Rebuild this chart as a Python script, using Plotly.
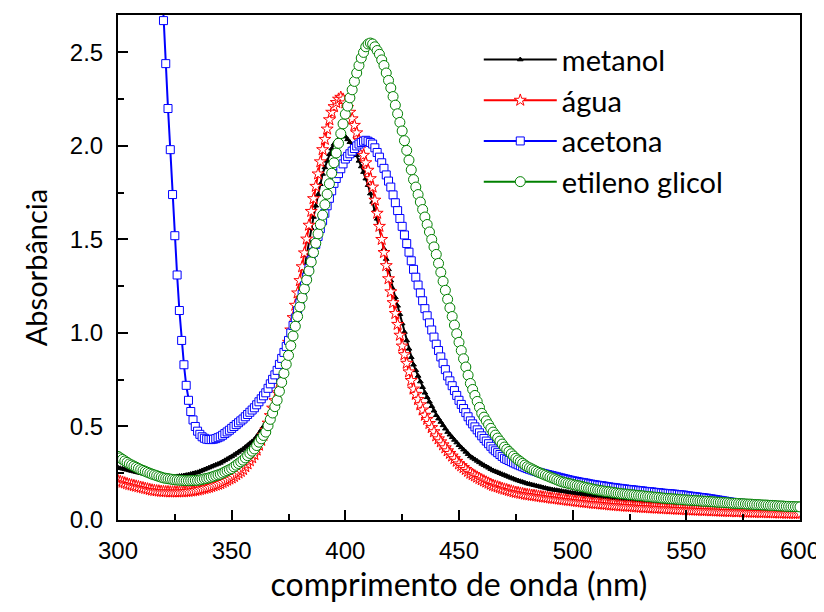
import plotly.graph_objects as go

wl = list(range(300, 601))
wl_acetona = list(range(319, 601))

metanol = [
 0.280,0.277,0.274,0.271,0.268,0.265,0.262,0.259,0.256,0.253,
 0.250,0.248,0.246,0.244,0.242,0.240,0.238,0.236,0.235,0.233,
 0.232,0.232,0.231,0.231,0.231,0.232,0.233,0.235,0.236,0.238,
 0.240,0.243,0.246,0.249,0.252,0.255,0.260,0.265,0.270,0.275,
 0.280,0.285,0.290,0.295,0.300,0.305,0.312,0.319,0.326,0.333,
 0.340,0.348,0.356,0.364,0.372,0.380,0.390,0.400,0.410,0.420,
 0.430,0.446,0.463,0.481,0.500,0.520,0.546,0.574,0.602,0.630,
 0.660,0.700,0.742,0.786,0.832,0.880,0.942,1.006,1.070,1.135,
 1.200,1.272,1.344,1.416,1.488,1.560,1.620,1.680,1.740,1.795,
 1.850,1.885,1.920,1.955,1.985,2.010,2.025,2.038,2.050,2.060,
 2.050,2.035,2.020,1.997,1.973,1.950,1.920,1.890,1.860,1.825,
 1.790,1.745,1.700,1.655,1.610,1.560,1.505,1.450,1.395,1.340,
 1.280,1.235,1.190,1.145,1.100,1.050,1.005,0.960,0.915,0.870,
 0.830,0.800,0.770,0.740,0.710,0.680,0.656,0.632,0.608,0.584,
 0.560,0.542,0.524,0.506,0.488,0.470,0.456,0.442,0.428,0.414,
 0.400,0.388,0.376,0.364,0.352,0.340,0.332,0.324,0.316,0.308,
 0.300,0.293,0.286,0.279,0.272,0.265,0.260,0.255,0.250,0.245,
 0.240,0.235,0.230,0.225,0.220,0.215,0.211,0.207,0.203,0.199,
 0.195,0.192,0.189,0.186,0.183,0.180,0.177,0.174,0.171,0.168,
 0.165,0.163,0.161,0.159,0.157,0.155,0.153,0.151,0.149,0.147,
 0.145,0.143,0.141,0.140,0.138,0.136,0.135,0.133,0.131,0.130,
 0.128,0.127,0.125,0.124,0.123,0.121,0.120,0.119,0.117,0.116,
 0.115,0.114,0.113,0.112,0.111,0.110,0.109,0.107,0.106,0.105,
 0.104,0.103,0.102,0.101,0.100,0.099,0.099,0.098,0.097,0.096,
 0.095,0.094,0.094,0.093,0.092,0.092,0.091,0.090,0.090,0.089,
 0.088,0.087,0.087,0.086,0.085,0.085,0.084,0.083,0.083,0.082,
 0.081,0.080,0.080,0.079,0.079,0.078,0.077,0.077,0.076,0.076,
 0.075,0.075,0.074,0.074,0.073,0.073,0.072,0.072,0.071,0.071,
 0.070,0.070,0.069,0.069,0.068,0.068,0.067,0.067,0.066,0.066,
 0.065,0.065,0.064,0.064,0.063,0.063,0.062,0.062,0.061,0.061,
 0.060]

agua = [
 0.210,0.206,0.202,0.198,0.194,0.190,0.187,0.184,0.181,0.178,
 0.175,0.172,0.169,0.166,0.163,0.160,0.158,0.156,0.155,0.153,
 0.152,0.151,0.151,0.150,0.150,0.150,0.150,0.150,0.151,0.151,
 0.152,0.153,0.155,0.156,0.158,0.160,0.163,0.166,0.169,0.172,
 0.175,0.179,0.183,0.187,0.191,0.195,0.201,0.207,0.213,0.219,
 0.225,0.233,0.242,0.251,0.260,0.270,0.285,0.300,0.317,0.333,
 0.350,0.374,0.400,0.426,0.453,0.480,0.518,0.558,0.598,0.638,
 0.680,0.732,0.786,0.840,0.895,0.950,1.016,1.082,1.148,1.214,
 1.280,1.354,1.428,1.502,1.576,1.650,1.718,1.784,1.850,1.915,
 1.980,2.035,2.090,2.140,2.180,2.210,2.232,2.250,2.260,2.250,
 2.230,2.205,2.180,2.145,2.110,2.070,2.030,1.990,1.950,1.910,
 1.870,1.825,1.780,1.710,1.640,1.570,1.500,1.430,1.360,1.290,
 1.220,1.162,1.104,1.046,0.988,0.930,0.884,0.838,0.792,0.746,
 0.700,0.672,0.644,0.616,0.588,0.560,0.538,0.516,0.494,0.472,
 0.450,0.434,0.418,0.402,0.386,0.370,0.356,0.342,0.328,0.314,
 0.300,0.290,0.280,0.270,0.260,0.250,0.243,0.236,0.229,0.222,
 0.215,0.209,0.203,0.197,0.191,0.185,0.181,0.177,0.173,0.169,
 0.165,0.162,0.158,0.155,0.151,0.148,0.146,0.143,0.141,0.138,
 0.136,0.134,0.132,0.131,0.129,0.127,0.125,0.123,0.122,0.120,
 0.118,0.116,0.115,0.113,0.112,0.110,0.108,0.107,0.105,0.104,
 0.102,0.101,0.099,0.098,0.096,0.095,0.094,0.092,0.091,0.089,
 0.088,0.087,0.086,0.085,0.084,0.083,0.081,0.080,0.079,0.078,
 0.077,0.076,0.075,0.074,0.073,0.073,0.072,0.071,0.070,0.069,
 0.068,0.067,0.067,0.066,0.065,0.065,0.064,0.063,0.063,0.062,
 0.061,0.060,0.060,0.059,0.059,0.058,0.057,0.057,0.056,0.056,
 0.055,0.054,0.054,0.053,0.053,0.052,0.052,0.051,0.051,0.050,
 0.050,0.049,0.049,0.048,0.048,0.047,0.047,0.046,0.046,0.045,
 0.045,0.045,0.044,0.044,0.044,0.043,0.043,0.042,0.042,0.041,
 0.041,0.041,0.040,0.040,0.040,0.039,0.039,0.039,0.038,0.038,
 0.038,0.037,0.037,0.037,0.036,0.036,0.036,0.035,0.035,0.035,
 0.035]

acetona = [
 2.950,
 2.670,2.440,2.200,1.980,1.740,1.520,1.310,1.120,0.960,0.830,
 0.720,0.640,0.580,0.535,0.500,0.475,0.458,0.445,0.437,0.432,
 0.430,0.430,0.432,0.435,0.440,0.445,0.453,0.462,0.471,0.480,
 0.490,0.500,0.510,0.520,0.530,0.540,0.552,0.564,0.576,0.588,
 0.600,0.616,0.632,0.648,0.664,0.680,0.704,0.728,0.752,0.776,
 0.800,0.832,0.864,0.896,0.928,0.960,1.000,1.040,1.080,1.120,
 1.160,1.206,1.252,1.298,1.344,1.390,1.432,1.474,1.516,1.558,
 1.600,1.640,1.680,1.720,1.760,1.800,1.826,1.852,1.878,1.904,
 1.930,1.944,1.958,1.972,1.986,2.000,2.010,2.018,2.025,2.030,
 2.025,2.018,2.010,1.990,1.965,1.940,1.910,1.880,1.845,1.812,
 1.780,1.738,1.696,1.654,1.612,1.570,1.524,1.478,1.432,1.386,
 1.340,1.298,1.256,1.214,1.172,1.130,1.092,1.054,1.016,0.978,
 0.940,0.906,0.872,0.838,0.804,0.770,0.744,0.718,0.692,0.666,
 0.640,0.618,0.596,0.574,0.552,0.530,0.514,0.498,0.482,0.466,
 0.450,0.436,0.422,0.408,0.394,0.380,0.370,0.360,0.350,0.340,
 0.330,0.324,0.318,0.312,0.306,0.300,0.295,0.290,0.285,0.280,
 0.275,0.271,0.267,0.263,0.259,0.255,0.252,0.249,0.246,0.243,
 0.240,0.237,0.234,0.231,0.228,0.225,0.222,0.219,0.216,0.213,
 0.210,0.208,0.206,0.203,0.201,0.199,0.197,0.194,0.192,0.190,
 0.188,0.186,0.184,0.183,0.181,0.179,0.177,0.175,0.174,0.172,
 0.170,0.169,0.167,0.166,0.164,0.163,0.162,0.160,0.159,0.157,
 0.156,0.155,0.153,0.152,0.151,0.150,0.148,0.147,0.146,0.144,
 0.143,0.142,0.141,0.140,0.139,0.138,0.136,0.135,0.134,0.133,
 0.130,0.129,0.127,0.126,0.124,0.123,0.121,0.120,0.118,0.117,
 0.115,0.113,0.111,0.109,0.107,0.105,0.103,0.101,0.099,0.097,
 0.095,0.093,0.092,0.090,0.089,0.088,0.087,0.086,0.085,0.084,
 0.083,0.082,0.082,0.081,0.080,0.080,0.079,0.078,0.078,0.077,
 0.076,0.075,0.075,0.074,0.073,0.073,0.072,0.072,0.071,0.071,
 0.070]

etileno_glicol = [
 0.340,0.332,0.324,0.316,0.308,0.300,0.294,0.288,0.282,0.276,
 0.270,0.265,0.260,0.255,0.250,0.245,0.241,0.237,0.233,0.229,
 0.225,0.223,0.221,0.219,0.217,0.215,0.214,0.213,0.212,0.211,
 0.210,0.210,0.211,0.211,0.212,0.212,0.214,0.217,0.220,0.222,
 0.225,0.229,0.233,0.237,0.241,0.245,0.251,0.257,0.263,0.269,
 0.275,0.284,0.293,0.302,0.311,0.320,0.332,0.344,0.356,0.368,
 0.380,0.398,0.416,0.434,0.452,0.470,0.504,0.538,0.572,0.606,
 0.640,0.688,0.736,0.784,0.832,0.880,0.932,0.984,1.036,1.088,
 1.140,1.188,1.236,1.284,1.332,1.380,1.430,1.480,1.530,1.580,
 1.630,1.686,1.742,1.798,1.854,1.910,1.962,2.014,2.066,2.118,
 2.170,2.213,2.257,2.300,2.345,2.390,2.430,2.470,2.500,2.530,
 2.545,2.550,2.545,2.530,2.510,2.490,2.460,2.430,2.390,2.350,
 2.310,2.264,2.218,2.172,2.126,2.080,2.028,1.976,1.924,1.872,
 1.820,1.780,1.740,1.700,1.660,1.620,1.580,1.540,1.500,1.460,
 1.420,1.372,1.324,1.276,1.228,1.180,1.134,1.088,1.042,0.996,
 0.950,0.906,0.862,0.818,0.774,0.730,0.698,0.666,0.634,0.602,
 0.570,0.550,0.530,0.510,0.490,0.470,0.454,0.438,0.422,0.406,
 0.390,0.378,0.366,0.354,0.342,0.330,0.321,0.312,0.303,0.294,
 0.285,0.279,0.273,0.267,0.261,0.255,0.250,0.245,0.240,0.235,
 0.230,0.225,0.220,0.215,0.210,0.205,0.202,0.199,0.196,0.193,
 0.190,0.187,0.184,0.182,0.179,0.176,0.173,0.170,0.168,0.165,
 0.162,0.160,0.158,0.156,0.154,0.152,0.151,0.149,0.147,0.145,
 0.143,0.142,0.140,0.139,0.138,0.136,0.135,0.134,0.132,0.131,
 0.130,0.129,0.127,0.126,0.125,0.123,0.122,0.121,0.120,0.118,
 0.117,0.116,0.115,0.114,0.113,0.112,0.111,0.110,0.109,0.108,
 0.107,0.106,0.105,0.105,0.104,0.103,0.102,0.101,0.100,0.100,
 0.099,0.098,0.097,0.096,0.095,0.095,0.094,0.093,0.092,0.091,
 0.090,0.089,0.089,0.088,0.087,0.087,0.086,0.085,0.085,0.084,
 0.083,0.082,0.082,0.081,0.080,0.080,0.079,0.078,0.078,0.077,
 0.076,0.075,0.075,0.074,0.073,0.073,0.072,0.072,0.071,0.071,
 0.070]

x_ticks = [300, 350, 400, 450, 500, 550, 600]
y_ticks = [0.0, 0.5, 1.0, 1.5, 2.0, 2.5]

series = [
    ("metanol", wl, metanol, "#000000", "triangle-up", 5, "#000000"),
    ("água", wl, agua, "#ff0000", "star", 9, "#ffffff"),
    ("acetona", wl_acetona, acetona, "#0000ff", "square", 8, "#ffffff"),
    ("etileno glicol", wl, etileno_glicol, "#008000", "circle", 10, "#ffffff"),
]

LABEL_FONT = "Lato, 'Open Sans', sans-serif"
TICK_FONT = "'Liberation Sans Narrow', 'Liberation Sans', Arial, sans-serif"

fig = go.Figure()
for i, (name, xs, ys, col, sym, size, fill) in enumerate(series):
    fig.add_trace(go.Scatter(
        x=xs, y=ys, name=name, mode="lines+markers",
        legendgroup=f"g{i}",
        line=dict(color=col, width=2),
        marker=dict(symbol=sym, size=size, color=fill,
                    line=dict(color=col, width=1)),
    ))

axis_common = dict(
    showline=True, linecolor="black", linewidth=2, mirror=True,
    ticks="inside", ticklen=10, tickwidth=2, tickcolor="black",
    showgrid=False, zeroline=False, automargin=False,
    tickfont=dict(family=TICK_FONT, size=24, color="black"),
    ticklabelstandoff=8, ticklabeloverflow="allow",
)

fig.update_xaxes(
    range=[300, 600], tickvals=x_ticks, ticktext=[str(v) for v in x_ticks],
    minor=dict(ticks="inside", ticklen=6, tickwidth=2, tickcolor="black", dtick=25),
    title=dict(text="comprimento de onda (nm)", font=dict(family=LABEL_FONT, size=32, color="black"), standoff=8),
    **axis_common,
)
fig.update_yaxes(
    range=[0, 2.7], tickvals=y_ticks, ticktext=[f"{v:.1f}" for v in y_ticks],
    minor=dict(ticks="inside", ticklen=6, tickwidth=2, tickcolor="black", dtick=0.25, tick0=0),
    title=dict(text="Absorbância", font=dict(family=LABEL_FONT, size=29, color="black"), standoff=14),
    **axis_common,
)

# page adds an 8 px body margin, so the figure is drawn 8 px in from the window edge
fig.update_layout(
    width=816, height=596,
    margin=dict(l=110, r=24, t=7, b=84),
    paper_bgcolor="white", plot_bgcolor="white",
    showlegend=True,
    legend=dict(
        x=0.529, y=0.962, xanchor="left", yanchor="top",
        bgcolor="rgba(0,0,0,0)", borderwidth=0,
        font=dict(family=LABEL_FONT, size=29, color="black"),
        itemwidth=73, tracegroupgap=0,
    ),
)

fig.write_html("out.html")
